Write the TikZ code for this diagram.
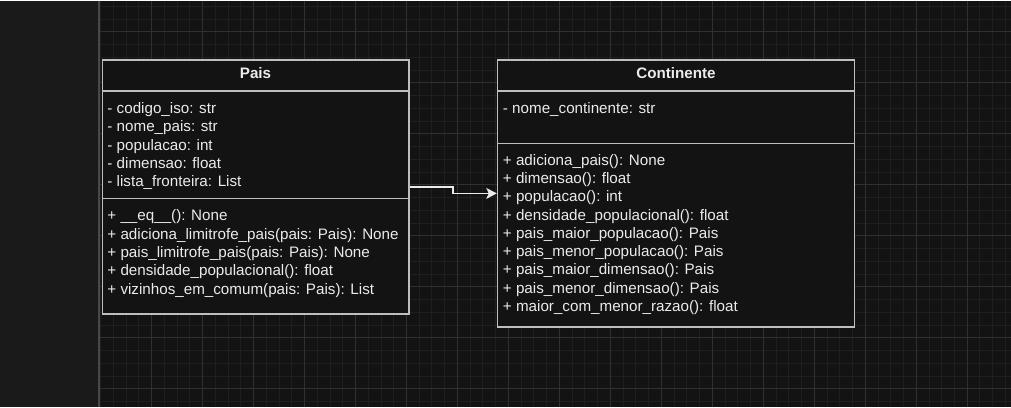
\documentclass[tikz,border=0pt]{standalone}
\usepackage{fontspec}
\setmainfont{Liberation Sans}
\usetikzlibrary{arrows.meta}
\definecolor{canvas}{HTML}{131313}
\definecolor{sidebar}{HTML}{1A1A1A}
\definecolor{minorline}{HTML}{1F1F1F}
\definecolor{majorline}{HTML}{303030}
\definecolor{edge}{HTML}{BEBEBE}
\definecolor{ink}{HTML}{EBEBEB}
\tikzset{
    classbox/.style={draw=edge, fill=canvas, line width=1.4pt, inner sep=0pt},
    classtitle/.style={anchor=base, inner sep=0pt, text=ink, font=\fontsize{15.2}{18}\selectfont\bfseries},
    member/.style={anchor=base west, inner sep=0pt, text=ink, font=\fontsize{15.2}{18}\selectfont},
    divider/.style={draw=edge, line width=1.4pt},
    connector/.style={draw=ink, line width=1.3pt, -{Stealth[length=10.5pt,width=11pt,inset=2.5pt]}},
}
\newcommand\UmlClass[6]{% name, left, top, right, bottom, title
    \node[classbox, minimum width=#4pt-#2pt, minimum height=#5pt-#3pt] (#1) at ({(#2+#4)/2},{(#3+#5)/2}) {};
    \node[classtitle] (#1-title) at ({(#2+#4)/2},{#3+18.3}) {#6};
}
\newcommand\Members[4]{% name, x, first baseline, lines
    \foreach \m [count=\i] in {#4}
        \node[member] (#1-\i) at (#2,{#3+18.3*(\i-1)}) {\m};
}

\begin{document}
\begin{tikzpicture}[x=1pt,y=-1pt]
    % canvas and grid
    \fill[canvas] (0,0) rectangle (1011,406);
    \foreach \k in {0,...,71}
        \draw[minorline, line width=1pt] ({100.7+12.75*\k},0) -- ({100.7+12.75*\k},406);
    \foreach \k in {0,...,31}
        \draw[minorline, line width=1pt] (100,{5.5+12.75*\k}) -- (1011,{5.5+12.75*\k});
    \foreach \k in {1,...,17}
        \draw[majorline, line width=1pt] ({100.7+51*\k},0) -- ({100.7+51*\k},406);
    \foreach \k in {0,...,7}
        \draw[majorline, line width=1pt] (100,{31+51*\k}) -- (1011,{31+51*\k});
    \fill[sidebar] (0,0) rectangle (100,406);
    \draw[line width=2pt, color=sidebar!80!white] (99,0) -- (99,406);

    % Pais
    \UmlClass{pais}{102.3}{59}{409}{313.3}{Pais}
    \draw[divider] (pais.west |- 0,90) -- (pais.east |- 0,90);
    \draw[divider] (pais.west |- 0,197.3) -- (pais.east |- 0,197.3);
    \Members{pais-attr}{107.3}{112.5}{- codigo\_iso: str, - nome\_pais: str, - populacao: int,
        - dimensao: float, - lista\_fronteira: List}
    \Members{pais-op}{107.3}{220}{+ \_\_eq\_\_(): None, + adiciona\_limitrofe\_pais(pais: Pais): None,
        + pais\_limitrofe\_pais(pais: Pais): None, + densidade\_populacional(): float,
        + vizinhos\_em\_comum(pais: Pais): List}

    % Continente
    \UmlClass{continente}{497.7}{59}{855}{326}{Continente}
    \draw[divider] (continente.west |- 0,90) -- (continente.east |- 0,90);
    \draw[divider] (continente.west |- 0,142.3) -- (continente.east |- 0,142.3);
    \Members{cont-attr}{503}{112.5}{- nome\_continente: str}
    \Members{cont-op}{503}{164.3}{+ adiciona\_pais(): None, + dimensao(): float, + populacao(): int,
        + densidade\_populacional(): float, + pais\_maior\_populacao(): Pais,
        + pais\_menor\_populacao(): Pais, + pais\_maior\_dimensao(): Pais,
        + pais\_menor\_dimensao(): Pais, + maior\_com\_menor\_razao(): float}

    \coordinate (bend) at (453.3,0);
    \draw[connector] (pais.east) -| (bend |- continente.west) -- (continente.west);
\end{tikzpicture}
\end{document}
